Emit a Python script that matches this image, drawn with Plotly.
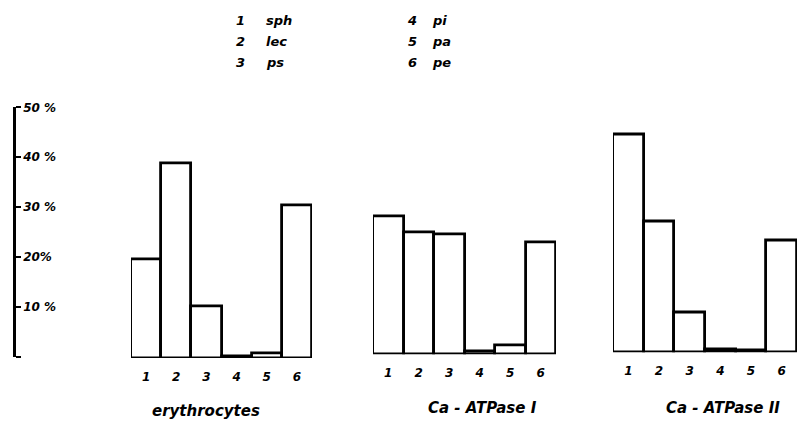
import plotly.graph_objects as go

# Phospholipid classes (numbered 1-6 on each group's axis)
classes = ["1", "2", "3", "4", "5", "6"]
class_names = ["sph", "lec", "ps", "pi", "pa", "pe"]

# Percentage of total phospholipid per class
erythrocytes = [19.7, 39.0, 10.4, 0.4, 1.0, 30.5]
ca_atpase_1 = [27.6, 24.4, 24.0, 0.5, 1.8, 22.4]
ca_atpase_2 = [43.5, 26.2, 7.9, 0.5, 0.3, 22.4]

group_titles = ["erythrocytes", "Ca - ATPase I", "Ca - ATPase II"]

y_ticks = [0, 10, 20, 30, 40, 50]
y_ticktext = ["", "10 %", "20%", "30 %", "40 %", "50 %"]

W, H = 801, 423
FONT = "DejaVu Sans"
tick_font = dict(family=FONT, size=12, color="black", weight="bold", style="italic")
key_font = dict(family=FONT, size=13, color="black", weight="bold", style="italic")
caption_font = dict(family=FONT, size=15, color="black", weight="bold", style="italic")

fig = go.Figure()

# pixel extents of each group (left, right, baseline)
groups = [
    (erythrocytes, 131, 312, 357),
    (ca_atpase_1, 373, 556, 353),
    (ca_atpase_2, 613, 797, 351),
]
px_per_unit = 254 / 50.0

layout = dict(
    width=W, height=H,
    margin=dict(l=0, r=0, t=0, b=0),
    paper_bgcolor="white", plot_bgcolor="white",
    showlegend=False, bargap=0,
)

for i, (vals, x0, x1, base) in enumerate(groups):
    n = "" if i == 0 else str(i + 1)
    fig.add_trace(go.Bar(
        x=classes, y=vals,
        xaxis="x" + n, yaxis="y" + n,
        marker=dict(color="white", line=dict(color="black", width=2.8)),
        width=1.0,
    ))
    y_lo = (H - base) / H
    y_hi = (H - base + 50 * px_per_unit) / H
    layout["xaxis" + n] = dict(
        domain=[x0 / W, x1 / W], anchor="y" + n,
        range=[-0.5, 5.5], showgrid=False, zeroline=False, showline=False,
        ticks="", tickfont=tick_font, ticklabelstandoff=10,
    )
    layout["yaxis" + n] = dict(
        domain=[y_lo, y_hi], anchor="x" + n, range=[0, 50],
        visible=False, showgrid=False,
    )

# visible percentage axis on the far left
fig.add_trace(go.Scatter(x=[None], y=[None], xaxis="x4", yaxis="y4", showlegend=False))
layout["xaxis4"] = dict(domain=[0, 0.01], visible=False, anchor="y4")
layout["yaxis4"] = dict(
    domain=[(H - 356) / H, (H - 356 + 50 * px_per_unit) / H],
    range=[0, 50], anchor="free", position=14 / W, side="right",
    showline=True, linecolor="black", linewidth=2.5,
    ticks="outside", ticklen=5, tickwidth=2, tickcolor="black",
    tickvals=y_ticks, ticktext=y_ticktext, tickfont=tick_font,
    ticklabelstandoff=0,
    showgrid=False, zeroline=False,
)

fig.update_layout(**layout)

# group captions
caption_pos = [(206, 411), (482, 408), (723, 408)]
for text, (cx, cy) in zip(group_titles, caption_pos):
    fig.add_annotation(
        x=cx / W, y=1 - cy / H, xref="paper", yref="paper",
        text=text, showarrow=False, font=caption_font,
        xanchor="center", yanchor="middle",
    )

# class key at the top
key_cols = [(240, 264), (412, 430)]
key_rows = [14, 35, 56]
for k, (num, name) in enumerate(zip(classes, class_names)):
    col, row = divmod(k, 3)
    nx, tx = key_cols[col]
    ty = 1 - key_rows[row] / H
    fig.add_annotation(x=nx / W, y=ty, xref="paper", yref="paper", text=num,
                       showarrow=False, font=key_font, xanchor="center", yanchor="middle")
    fig.add_annotation(x=tx / W, y=ty, xref="paper", yref="paper", text=name,
                       showarrow=False, font=key_font, xanchor="left", yanchor="middle")

fig.write_html("out.html")
